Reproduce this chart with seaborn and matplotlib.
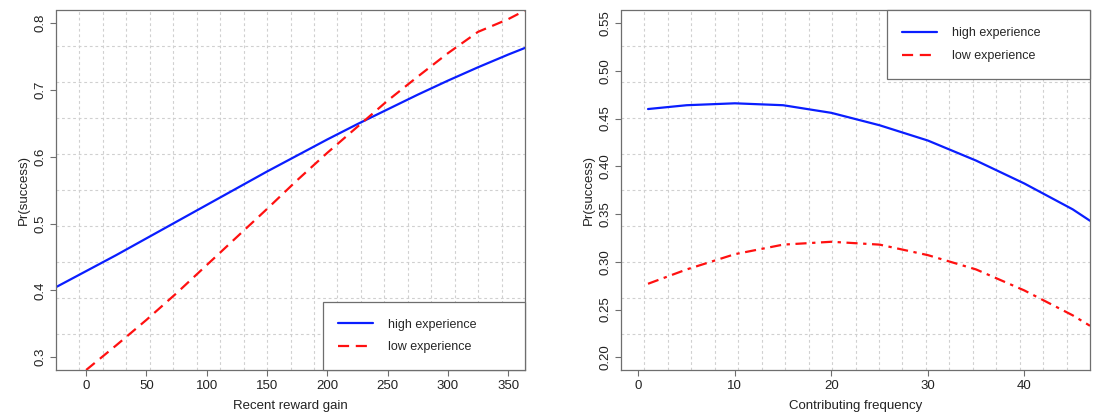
import numpy as np
import pandas as pd
import matplotlib
matplotlib.use("Agg")
import matplotlib.pyplot as plt
from matplotlib.patches import Rectangle
import seaborn as sns

# ---- data ----
reward_x = [-25, 0, 25, 50, 75, 100, 125, 150, 175, 200, 225, 250, 275, 300, 325, 350, 364]
reward_high = [0.405, 0.429, 0.453, 0.478, 0.503, 0.528, 0.553, 0.578, 0.602, 0.626,
               0.649, 0.671, 0.693, 0.714, 0.734, 0.753, 0.763]
reward_low_x = [0, 25, 50, 75, 100, 125, 150, 175, 200, 225, 250, 275, 300, 325, 350, 364]
reward_low = [0.281, 0.318, 0.356, 0.396, 0.438, 0.48, 0.522, 0.565, 0.606, 0.645,
              0.684, 0.72, 0.755, 0.787, 0.806, 0.819]

freq_x = [1, 5, 10, 15, 20, 25, 30, 35, 40, 45, 46.8]
freq_high = [0.460, 0.464, 0.466, 0.464, 0.456, 0.443, 0.427, 0.406, 0.382, 0.355, 0.343]
freq_low = [0.277, 0.292, 0.308, 0.318, 0.321, 0.318, 0.307, 0.292, 0.270, 0.244, 0.233]

left_xticks = [0, 50, 100, 150, 200, 250, 300, 350]
left_yticks = [0.3, 0.4, 0.5, 0.6, 0.7, 0.8]
right_xticks = [0, 10, 20, 30, 40]
right_yticks = [0.20, 0.25, 0.30, 0.35, 0.40, 0.45, 0.50, 0.55]
labels = ["high experience", "low experience"]

BLUE = "#0a1eff"
RED = "#ff1010"
EDGE = "#6e6e6e"

sns.set_theme(style="white")
plt.rcParams["font.family"] = ["Liberation Sans", "DejaVu Sans"]

fig = plt.figure(figsize=(10.95, 4.15), dpi=100)
ax1 = fig.add_axes([56 / 1095, 45 / 415, 469 / 1095, 359.5 / 415])
ax2 = fig.add_axes([621 / 1095, 45 / 415, 469 / 1095, 359.5 / 415])


def style_axis(ax, xlim, ylim, xticks, yticks, yfmt, xlabel):
    ax.set_xlim(*xlim)
    ax.set_ylim(*ylim)
    ax.set_xticks(xticks)
    ax.set_yticks(yticks)
    ax.set_yticklabels([yfmt.format(v) for v in yticks], rotation=90, va="center")
    # R-style grid(): 20 x 10 equal divisions of the plotting region
    ax.set_xticks(np.linspace(xlim[0], xlim[1], 21)[1:-1], minor=True)
    ax.set_yticks(np.linspace(ylim[0], ylim[1], 11)[1:-1], minor=True)
    ax.grid(which="minor", color="#d0d0d0", linestyle=(0, (2.5, 2.5)), linewidth=0.8)
    ax.grid(which="major", visible=False)
    ax.tick_params(which="minor", length=0)
    ax.tick_params(which="major", direction="out", length=4, width=0.8, color=EDGE,
                   labelsize=9.5, labelcolor="#222222", bottom=True, left=True, pad=3)
    for s in ax.spines.values():
        s.set_color(EDGE)
        s.set_linewidth(0.9)
    ax.set_xlabel(xlabel, fontsize=9.5, color="#222222", labelpad=6)
    ax.set_ylabel("Pr(success)", fontsize=9.5, color="#222222", labelpad=3)


def r_legend(ax, x0, y0, x1, y1):
    # R-like legend box: frame drawn separately, entries left aligned inside it
    ax.add_patch(Rectangle((x0, y0), x1 - x0, y1 - y0, transform=ax.transAxes,
                           facecolor="white", edgecolor=EDGE, linewidth=0.9,
                           zorder=4, clip_on=False))
    leg = ax.legend(loc="center left", bbox_to_anchor=(x0 + 0.031, (y0 + y1) / 2),
                    frameon=False, borderaxespad=0, borderpad=0, fontsize=9,
                    handlelength=2.8, handletextpad=1.2, labelspacing=0.85)
    leg.set_zorder(5)
    return leg


# ---- left panel ----
sns.lineplot(x=reward_x, y=reward_high, color=BLUE, lw=1.6, ax=ax1, label=labels[0])
sns.lineplot(x=reward_low_x, y=reward_low, color=RED, lw=1.6, ax=ax1,
             linestyle=(0, (5, 3)), label=labels[1])
style_axis(ax1, (-25, 364), (0.281, 0.819), left_xticks, left_yticks, "{:.1f}",
           "Recent reward gain")
r_legend(ax1, (323 - 56) / 469, 0.0, 1.0, (370 - 302) / 359.5)

# ---- right panel ----
sns.lineplot(x=freq_x, y=freq_high, color=BLUE, lw=1.6, ax=ax2, label=labels[0])
sns.lineplot(x=freq_x, y=freq_low, color=RED, lw=1.6, ax=ax2,
             linestyle=(0, (5, 2.5, 1.5, 2.5)), label=labels[1])
style_axis(ax2, (-1.8, 46.8), (0.1867, 0.5632), right_xticks, right_yticks, "{:.2f}",
           "Contributing frequency")
leg2 = r_legend(ax2, (887 - 621) / 469, 1 - (79 - 10.5) / 359.5, 1.0, 1.0)
for h in leg2.legend_handles:
    if h.get_label() == labels[1]:
        h.set_linestyle((0, (5, 3)))

fig.savefig("out.png", dpi=100)
